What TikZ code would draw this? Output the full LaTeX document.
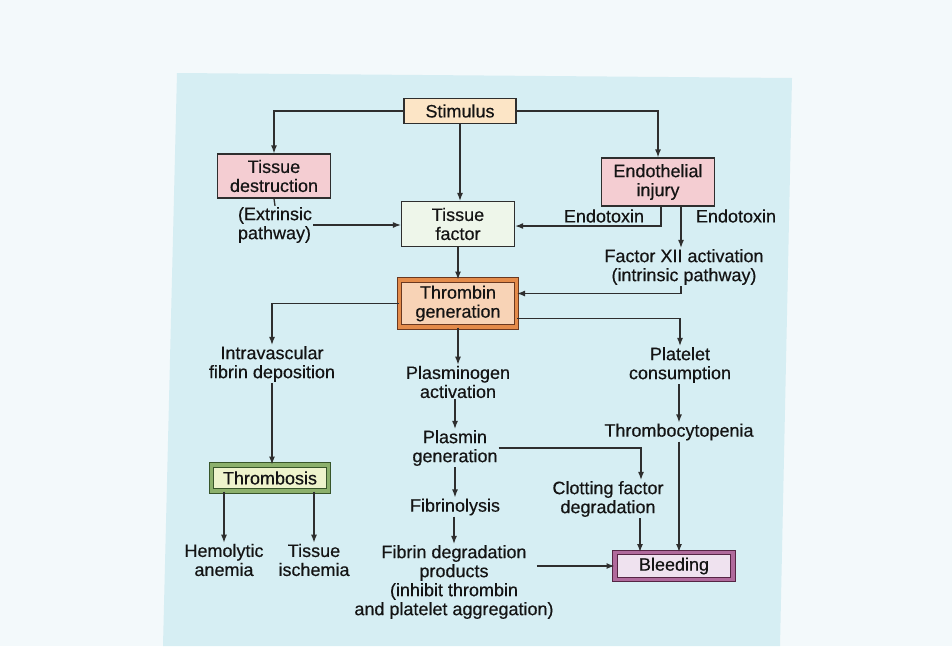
\documentclass[tikz,border=0pt]{standalone}
\usepackage{fontspec}
\setmainfont{Liberation Sans}[UprightFeatures={FakeBold=0.4}]
\usetikzlibrary{shapes,backgrounds}
\usetikzlibrary{arrows,arrows.meta}

\definecolor{paper}{HTML}{F3F9FB}
\definecolor{panel}{HTML}{D6EEF3}
\definecolor{ink}{HTML}{141414}
\definecolor{edge}{HTML}{2E2E2E}
\definecolor{stimfill}{HTML}{FCE5C6}
\definecolor{pinkfill}{HTML}{F4CDD2}
\definecolor{factfill}{HTML}{EEF6EA}
\definecolor{thrfill}{HTML}{F8D3B6}
\definecolor{thrband}{HTML}{E48B4A}
\definecolor{thrline}{HTML}{6A3820}
\definecolor{thbfill}{HTML}{EEF3CC}
\definecolor{thbband}{HTML}{8CB06C}
\definecolor{thbline}{HTML}{38552A}
\definecolor{blfill}{HTML}{EFE2EF}
\definecolor{blband}{HTML}{B06A9C}
\definecolor{blline}{HTML}{552544}

\begin{document}
\begin{tikzpicture}[x=1pt,y=-1pt,>={Latex[length=8pt,width=6pt]},
  every node/.style={font=\fontsize{18}{19}\selectfont,text=ink,align=center},
  lbl/.style={inner sep=1pt},
  box/.style={draw=edge,line width=1.2pt,inner sep=0pt},
  dbox/.style n args={3}{draw=#1,double=#2,double distance=3.5pt,line width=1pt,fill=#3,inner sep=0pt},
  arr/.style={->,draw=edge,line width=1.3pt}]

  \useasboundingbox (0,0) rectangle (952,646);
  \fill[paper] (0,0) rectangle (952,646);
  \fill[panel] (177,73) -- (792,78) -- (780,646) -- (163,646) -- cycle;

  \node[box,fill=stimfill,minimum width=112pt,minimum height=25pt] (stim) at (460,111) {Stimulus};
  \node[box,fill=pinkfill,minimum width=113pt,minimum height=44pt] (tdes) at (274,176) {Tissue\\destruction};
  \node[box,fill=pinkfill,minimum width=113pt,minimum height=48pt] (endo) at (658,182) {Endothelial\\injury};
  \node[box,fill=factfill,minimum width=113pt,minimum height=45pt] (tfac) at (458,224) {Tissue\\factor};
  \node[lbl,align=left] (extr) at (275,225) {(Extrinsic\\pathway)};
  \node[lbl] (endoA) at (604,216) {Endotoxin};
  \node[lbl] (endoB) at (736,216) {Endotoxin};
  \node[lbl] (fxii) at (684,267) {Factor XII activation\\(intrinsic pathway)};
  \node[dbox={thrline}{thrband}{thrfill},minimum width=117pt,minimum height=47pt] (thr) at (458,303.5) {Thrombin\\generation};

  \node[lbl] (intra) at (272,364) {Intravascular\\fibrin deposition};
  \node[lbl] (plasg) at (458,382) {Plasminogen\\activation};
  \node[lbl] (plat) at (680,365) {Platelet\\consumption};
  \node[lbl] (plasm) at (455,448) {Plasmin\\generation};
  \node[lbl] (thcy) at (679,432) {Thrombocytopenia};
  \node[dbox={thbline}{thbband}{thbfill},minimum width=117pt,minimum height=26pt] (thb) at (270,478) {Thrombosis};
  \node[lbl] (clot) at (608,499) {Clotting factor\\degradation};
  \node[lbl] (fibl) at (455,507) {Fibrinolysis};
  \node[lbl] (hemo) at (224,560) {Hemolytic\\anemia};
  \node[lbl] (isch) at (314,560) {Tissue\\ischemia};
  \node[lbl] (fdp) at (454,582) {Fibrin degradation\\products\\(inhibit thrombin\\and platelet aggregation)};
  \node[dbox={blline}{blband}{blfill},minimum width=118pt,minimum height=27pt] (bleed) at (674,566) {Bleeding};

  \coordinate (endoL) at ([xshift=3pt]endo.south);
  \coordinate (endoR) at ([xshift=23pt]endo.south);
  \coordinate (clotIn) at ([xshift=33pt]clot.north);
  \coordinate (clotOut) at ([xshift=32pt]clot.south);
  \coordinate (fdpR) at ([xshift=-18pt]fdp.east);

  \draw[arr] (stim.west) -| (tdes.north);
  \draw[arr] (stim.east) -| (endo.north);
  \draw[arr] (stim.south) -- (stim.south |- tfac.north);
  \draw[draw=edge,line width=1.3pt] (tdes.south) -- (extr.north);
  \draw[arr] (extr.east) -- (extr.east -| tfac.west);
  \draw[arr] (endoL) |- ([yshift=-2pt]tfac.east);
  \draw[arr] (endoR) -- (endoR |- fxii.north);
  \draw[arr] ([xshift=-3pt]fxii.south) |- ([yshift=10pt]thr.east);
  \draw[arr] (tfac.south) -- (tfac.south |- thr.north);

  \draw[arr] (thr.west) -| (intra.north);
  \draw[arr] ([yshift=-15pt]thr.east) -| (plat.north);
  \draw[arr] (thr.south) -- (thr.south |- plasg.north);
  \draw[arr] (intra.south) -- (intra.south |- thb.north);
  \draw[arr] (hemo.north |- thb.south) -- (hemo.north);
  \draw[arr] (isch.north |- thb.south) -- (isch.north);
  \draw[arr] (plasm.north |- plasg.south) -- (plasm.north);
  \draw[arr] (plasm.south) -- (fibl.north);
  \draw[arr] (fibl.south -| fdp.north) -- (fdp.north);
  \draw[arr] (plasm.east) -| (clotIn);
  \draw[arr] (clotOut) -- (clotOut |- bleed.north);
  \draw[arr] (thcy.north |- plat.south) -- (thcy.north);
  \draw[arr] (thcy.south) -- (thcy.south |- bleed.north);
  \draw[arr] (fdpR |- bleed.west) -- (bleed.west);
\end{tikzpicture}
\end{document}
